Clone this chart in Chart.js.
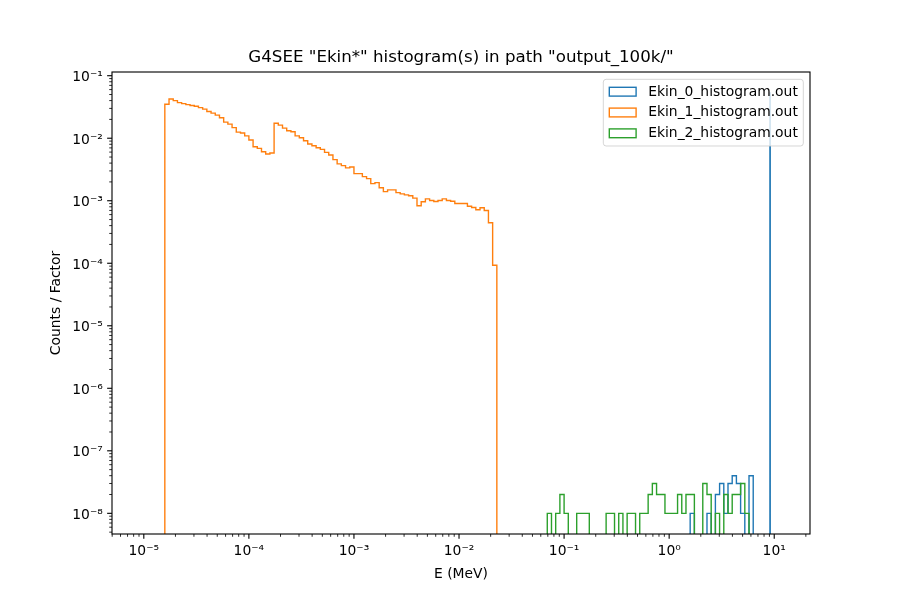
<!DOCTYPE html>
<html><head><meta charset="utf-8">
<script src="https://cdn.jsdelivr.net/npm/chart.js@4.4.1/dist/chart.umd.min.js"></script>
<style>html,body{margin:0;padding:0;background:#fff}canvas{display:block}</style>
</head><body>
<canvas id="c" width="900" height="600"></canvas>
<script>
// ---------------- data ----------------
const TITLE = 'G4SEE "Ekin*" histogram(s) in path "output_100k/"';
const X_LABEL = 'E (MeV)';
const Y_LABEL = 'Counts / Factor';
const SERIES_NAMES = ['Ekin_0_histogram.out', 'Ekin_1_histogram.out', 'Ekin_2_histogram.out'];
const SERIES_COLORS = ['#1f77b4', '#ff7f0e', '#2ca02c'];
const X_TICKS = [1e-5, 1e-4, 1e-3, 1e-2, 1e-1, 1, 10];
const Y_TICKS = [1e-8, 1e-7, 1e-6, 1e-5, 1e-4, 1e-3, 1e-2, 1e-1];
const X_RANGE = [4.98e-6, 21.9];
const Y_RANGE = [4.67e-9, 0.1146];

// common log-spaced bin grid: edge k = 10^(BIN_LOG_START + k / BINS_PER_DECADE)
const BIN_LOG_START = -5;
const BINS_PER_DECADE = 25;

// Ekin_1 (orange), bins 5..83
const EKIN1_FIRST_BIN = 5;
const EKIN1_COUNTS = [
  0.0350, 0.0425, 0.0400, 0.0371, 0.0358, 0.0345, 0.0333, 0.0325, 0.0309, 0.0292,
  0.0267, 0.0252, 0.0234, 0.0212, 0.0181, 0.0168, 0.0148, 0.0125, 0.0121, 0.0109,
  0.00935, 0.00731, 0.00687, 0.00608, 0.00559, 0.00580,
  0.0174, 0.0162, 0.0145, 0.0132, 0.0127, 0.0109, 0.0102, 0.00911, 0.00807, 0.00758,
  0.00705, 0.00662, 0.00593, 0.00539, 0.00454,
  0.00388, 0.00364, 0.00335, 0.00347, 0.00271, 0.00271, 0.00243, 0.00226, 0.00188, 0.00195,
  0.00161, 0.00140, 0.00149, 0.00149, 0.00135, 0.00129, 0.00124, 0.00120, 0.00110,
  0.000830, 0.000961, 0.00107, 0.00101, 0.000972, 0.00101, 0.00107, 0.00101, 0.000982, 0.000903,
  0.000903, 0.000903, 0.000818, 0.000780, 0.000717, 0.000771, 0.000699, 0.000445, 0.0000928
];

// Ekin_2 (green), bins 96..143
const EKIN2_FIRST_BIN = 96;
const EKIN2_COUNTS = [
  1e-8, 0, 1e-8, 2e-8, 1e-8, 0, 0, 1e-8, 1e-8, 1e-8,
  0, 0, 0, 0, 1e-8, 1e-8, 0, 1e-8, 0, 1e-8,
  1e-8, 0, 1e-8, 1e-8, 2e-8, 3e-8, 2e-8, 2e-8, 1e-8, 1e-8,
  1e-8, 2e-8, 1e-8, 2e-8, 2e-8, 0, 0, 3e-8, 2e-8, 0,
  1e-8, 0, 2e-8, 1e-8, 2e-8, 2e-8, 3e-8, 1e-8
];

// Ekin_0 (blue), bins 130..144 plus the narrow primary peak
const EKIN0_FIRST_BIN = 130;
const EKIN0_COUNTS = [1e-8, 0, 0, 0, 1e-8, 0, 2e-8, 3e-8, 1e-8, 3e-8, 4e-8, 3e-8, 1e-8, 0, 4e-8];
const EKIN0_PEAK_EDGES = [9.10, 9.16];
const EKIN0_PEAK_COUNTS = [0.053];

// ---------------- helpers ----------------
const FLOOR = 1e-13; // empty bins: drawn far below the axis and clipped, like matplotlib
function gridEdge(k) { return Math.pow(10, BIN_LOG_START + k / BINS_PER_DECADE); }
function gridEdges(first, n) { const e = []; for (let i = 0; i <= n; i++) e.push(gridEdge(first + i)); return e; }
function stepPoints(edges, counts) {
  const pts = [{x: edges[0], y: FLOOR}];
  counts.forEach((c, i) => {
    const v = c > 0 ? c : FLOOR;
    pts.push({x: edges[i], y: v});
    pts.push({x: edges[i + 1], y: v});
  });
  pts.push({x: edges[edges.length - 1], y: FLOOR});
  return pts;
}
const SUP = {'-': '\u207B', '0': '\u2070', '1': '\u00B9', '2': '\u00B2', '3': '\u00B3', '4': '\u2074',
             '5': '\u2075', '6': '\u2076', '7': '\u2077', '8': '\u2078', '9': '\u2079'};
function pow10Label(v) {
  const e = String(Math.round(Math.log10(v)));
  return '10' + e.split('').map(ch => SUP[ch]).join('');
}

const ekin1Pts = stepPoints(gridEdges(EKIN1_FIRST_BIN, EKIN1_COUNTS.length), EKIN1_COUNTS);
const ekin2Pts = stepPoints(gridEdges(EKIN2_FIRST_BIN, EKIN2_COUNTS.length), EKIN2_COUNTS);
const ekin0Pts = stepPoints(gridEdges(EKIN0_FIRST_BIN, EKIN0_COUNTS.length), EKIN0_COUNTS)
  .concat(stepPoints(EKIN0_PEAK_EDGES, EKIN0_PEAK_COUNTS));

const FONT = '"DejaVu Sans", sans-serif';
const FS = 13.89;
Chart.defaults.font.family = FONT;
Chart.defaults.color = '#000';

// frame, matplotlib-like ticks and legend
const decorPlugin = {
  id: 'decor',
  afterDraw(chart) {
    const ctx = chart.ctx, a = chart.chartArea;
    const xs = chart.scales.x, ys = chart.scales.y;
    ctx.save();
    ctx.strokeStyle = '#000';
    // ticks
    function ticks(scale, horizontal) {
      for (let n = -10; n <= 2; n++) {
        for (let j = 1; j <= 9; j++) {
          const v = j * Math.pow(10, n);
          if (v < scale.min || v > scale.max) continue;
          const p = scale.getPixelForValue(v);
          const major = j === 1;
          const len = major ? 4.86 : 2.78;
          ctx.lineWidth = major ? 1.11 : 0.83;
          ctx.beginPath();
          if (horizontal) { ctx.moveTo(p, a.bottom); ctx.lineTo(p, a.bottom + len); }
          else { ctx.moveTo(a.left, p); ctx.lineTo(a.left - len, p); }
          ctx.stroke();
        }
      }
    }
    ticks(xs, true);
    ticks(ys, false);
    // frame
    ctx.lineWidth = 1.11;
    ctx.strokeRect(a.left, a.top, a.right - a.left, a.bottom - a.top);
    // legend
    const bx = 603.3, by = 79.3, bw = 200, bh = 66.7, r = 2.8;
    ctx.beginPath();
    ctx.moveTo(bx + r, by);
    ctx.arcTo(bx + bw, by, bx + bw, by + bh, r);
    ctx.arcTo(bx + bw, by + bh, bx, by + bh, r);
    ctx.arcTo(bx, by + bh, bx, by, r);
    ctx.arcTo(bx, by, bx + bw, by, r);
    ctx.closePath();
    ctx.fillStyle = 'rgba(255,255,255,0.8)';
    ctx.fill();
    ctx.strokeStyle = 'rgba(204,204,204,0.8)';
    ctx.lineWidth = 1.0;
    ctx.stroke();
    ctx.font = FS + 'px ' + FONT;
    ctx.textBaseline = 'middle';
    ctx.textAlign = 'left';
    SERIES_NAMES.forEach((name, i) => {
      const cy = 91.7 + i * 20.8;
      ctx.strokeStyle = SERIES_COLORS[i];
      ctx.lineWidth = 1.39;
      ctx.strokeRect(609.3, cy - 4.4, 26.8, 8.8);
      ctx.fillStyle = '#000';
      ctx.fillText(name, 648.2, cy + 0.3);
    });
    ctx.restore();
  }
};

const common = {fill: false, borderWidth: 1.39, pointRadius: 0, tension: 0, clip: 0,
                borderJoinStyle: 'miter', borderCapStyle: 'butt'};

new Chart(document.getElementById('c'), {
  type: 'line',
  data: {
    datasets: [
      Object.assign({label: SERIES_NAMES[0], data: ekin0Pts, borderColor: SERIES_COLORS[0], order: 3}, common),
      Object.assign({label: SERIES_NAMES[1], data: ekin1Pts, borderColor: SERIES_COLORS[1], order: 2}, common),
      Object.assign({label: SERIES_NAMES[2], data: ekin2Pts, borderColor: SERIES_COLORS[2], order: 1}, common)
    ]
  },
  options: {
    responsive: false,
    animation: false,
    devicePixelRatio: 1,
    layout: {padding: {left: 0, right: 90, top: 0, bottom: 0}},
    plugins: {
      legend: {display: false},
      tooltip: {enabled: false},
      title: {
        display: true, text: TITLE, color: '#000', fullSize: false,
        font: {family: FONT, size: 16.67, weight: 'normal', lineHeight: 1.2},
        padding: {top: 48, bottom: 4}
      }
    },
    scales: {
      x: {
        type: 'logarithmic', position: 'bottom', min: X_RANGE[0], max: X_RANGE[1], bounds: 'data',
        afterBuildTicks: s => { s.ticks = X_TICKS.map(v => ({value: v})); },
        afterFit: s => { s.height = 66; },
        grid: {display: false, drawTicks: false}, border: {display: false},
        ticks: {autoSkip: false, maxRotation: 0, minRotation: 0, padding: 9.5, color: '#000',
                font: {family: FONT, size: FS}, callback: v => pow10Label(v)},
        title: {display: true, text: X_LABEL, color: '#000', font: {family: FONT, size: FS},
                padding: {top: 0, bottom: 17.5}}
      },
      y: {
        type: 'logarithmic', position: 'left', min: Y_RANGE[0], max: Y_RANGE[1], bounds: 'data',
        afterBuildTicks: s => { s.ticks = Y_TICKS.map(v => ({value: v})); },
        afterFit: s => { s.width = 112; },
        grid: {display: false, drawTicks: false}, border: {display: false},
        ticks: {autoSkip: false, padding: 9.2, labelOffset: 2, color: '#000',
                font: {family: FONT, size: FS}, callback: v => pow10Label(v)},
        title: {display: true, text: Y_LABEL, color: '#000', font: {family: FONT, size: FS},
                padding: {top: 47.7, bottom: 0}}
      }
    }
  },
  plugins: [decorPlugin]
});
</script>
</body></html>
